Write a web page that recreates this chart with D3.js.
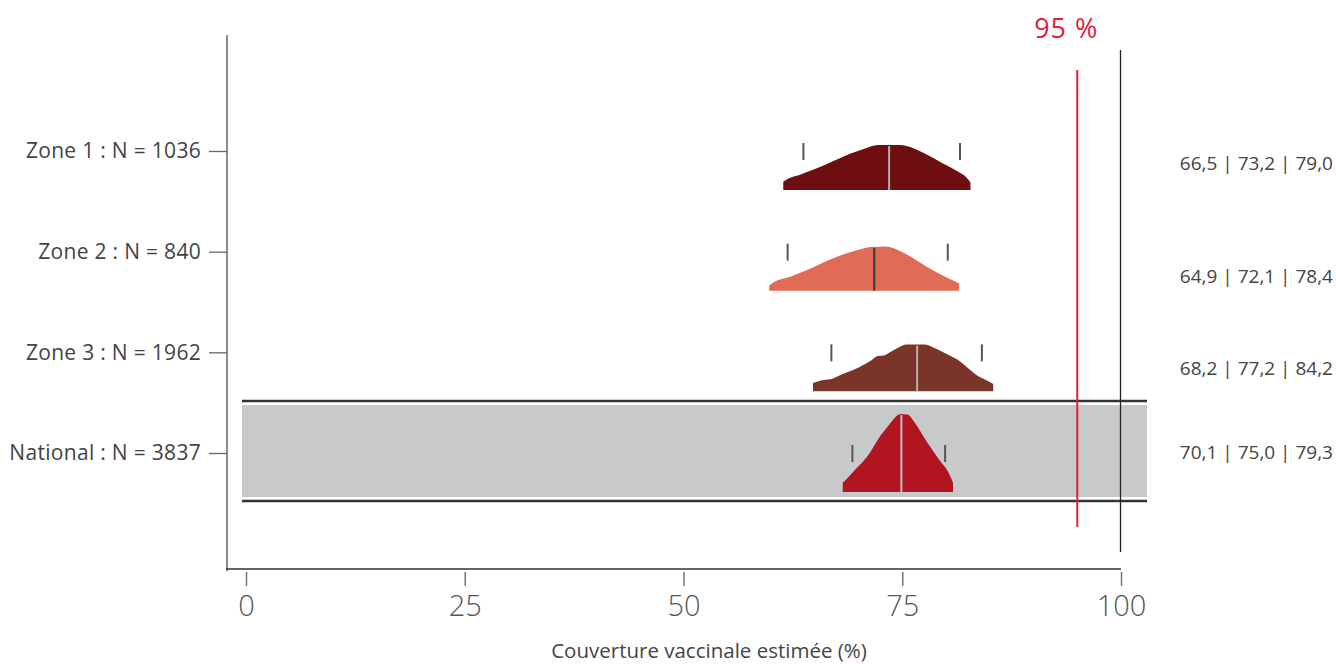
<!DOCTYPE html>
<html>
<head>
<meta charset="utf-8">
<script src="https://cdn.jsdelivr.net/npm/d3@7"></script>
<style>
  html, body { margin: 0; padding: 0; background: #fff; }
  svg { display: block; font-family: "Open Sans", "Noto Sans", sans-serif; }
</style>
</head>
<body>
<svg id="chart" width="1336" height="664"></svg>
<script>
// ---------------- DATA ----------------
const categories = ["Zone 1 : N = 1036", "Zone 2 : N = 840", "Zone 3 : N = 1962", "National : N = 3837"];
const medians = [73.5, 71.8, 76.7, 74.9];
const ciLow = [63.7, 61.9, 66.9, 69.3];
const ciHigh = [81.6, 80.2, 84.1, 79.9];
const summaryLabels = ["66,5 | 73,2 | 79,0", "64,9 | 72,1 | 78,4", "68,2 | 77,2 | 84,2", "70,1 | 75,0 | 79,3"];
const xTicks = [0, 25, 50, 75, 100];
const target = 95;
const targetLabel = "95 %";
const xTitle = "Couverture vaccinale estimée (%)";

// density profiles [coverage %, density]
const zone1Density = [[61.4,0.016],[62.0,0.022],[63.4,0.030],[64.5,0.037],[66.4,0.050],[67.6,0.059],[69.1,0.070],[70.6,0.079],[72.2,0.0865],[74.8,0.0865],[76.0,0.082],[77.1,0.074],[78.6,0.061],[80.2,0.046],[81.3,0.036],[82.5,0.021],[82.8,0.014]];
const zone2Density = [[59.8,0.010],[60.3,0.016],[62.2,0.027],[64.2,0.040],[66.1,0.055],[68.0,0.068],[69.9,0.078],[71.4,0.084],[73.1,0.085],[74.8,0.076],[76.4,0.061],[77.9,0.045],[79.4,0.031],[80.5,0.022],[81.5,0.014]];
const zone3Density = [[64.8,0.016],[65.7,0.021],[66.8,0.023],[68.0,0.032],[69.9,0.045],[71.4,0.059],[72.2,0.068],[72.9,0.069],[73.7,0.076],[74.8,0.086],[75.4,0.090],[77.5,0.090],[78.6,0.084],[80.2,0.071],[81.3,0.061],[82.5,0.045],[83.6,0.030],[84.4,0.023],[85.4,0.014]];
const nationalDensity = [[68.2,0.018],[68.7,0.026],[69.5,0.041],[70.6,0.060],[71.4,0.078],[72.5,0.108],[73.3,0.125],[74.1,0.142],[74.8,0.150],[75.6,0.149],[76.4,0.134],[77.1,0.116],[77.9,0.094],[78.6,0.077],[79.4,0.058],[80.2,0.040],[80.8,0.018]];
const densities = [zone1Density, zone2Density, zone3Density, nationalDensity];

const fillColors = ["#6e0e10", "#e06b57", "#7a3428", "#b01520"];
const medianColors = ["#b0b0b0", "#3a3a3a", "#b0b0b0", "#c0c0c0"];

// ---------------- LAYOUT ----------------
const svg = d3.select("#chart");
const x = d3.scaleLinear().domain([0, 100]).range([246, 1121]);
const y = d3.scalePoint().domain(categories).range([151, 453]);
const dens = d3.scaleLinear().domain([0, 0.15]).range([0, 78]);
const baseOffset = 39;
const summaryDy = [14, 26, 18, 1];
const axisY = 569;
const yAxisX = 227;

// highlighted national band
const natY = y(categories[3]);
svg.append("rect").attr("x", 242).attr("y", natY - 48).attr("width", 1147 - 242).attr("height", 92)
  .attr("fill", "#c8c9cb");
[natY - 52, natY + 48].forEach(yy => {
  svg.append("line").attr("x1", 242).attr("x2", 1147).attr("y1", yy).attr("y2", yy)
    .attr("stroke", "#333").attr("stroke-width", 2.5);
});

// 100% line
svg.append("line").attr("x1", x(100) - 0.5).attr("x2", x(100) - 0.5).attr("y1", 50).attr("y2", 552)
  .attr("stroke", "#222").attr("stroke-width", 1.3);

// density shapes
const area = d3.area()
  .x(d => x(d[0]))
  .curve(d3.curveMonotoneX);

categories.forEach((c, i) => {
  const base = y(c) + baseOffset;
  const data = densities[i];
  svg.append("path")
    .attr("d", area.y0(base).y1(d => base - dens(d[1]))(data))
    .attr("fill", fillColors[i]);
  let h = 0;
  for (let k = 0; k < data.length - 1; k++) {
    if (medians[i] >= data[k][0] && medians[i] <= data[k + 1][0]) {
      const t = (medians[i] - data[k][0]) / (data[k + 1][0] - data[k][0]);
      h = data[k][1] + t * (data[k + 1][1] - data[k][1]);
    }
  }
  svg.append("line").attr("x1", x(medians[i])).attr("x2", x(medians[i]))
    .attr("y1", base).attr("y2", base - dens(h) + 1)
    .attr("stroke", medianColors[i]).attr("stroke-width", 2);
  [ciLow[i], ciHigh[i]].forEach(v => {
    svg.append("line").attr("x1", x(v)).attr("x2", x(v))
      .attr("y1", y(c) - 8).attr("y2", y(c) + 9)
      .attr("stroke", "#555").attr("stroke-width", 2);
  });
  svg.append("text").attr("x", 1333).attr("y", y(c) + summaryDy[i])
    .attr("text-anchor", "end").attr("dominant-baseline", "middle")
    .attr("font-size", 19).attr("fill", "#444").text(summaryLabels[i]);
});

// target line
svg.append("line").attr("x1", x(target)).attr("x2", x(target)).attr("y1", 70).attr("y2", 527)
  .attr("stroke", "#e3203a").attr("stroke-width", 2);
svg.append("text").attr("x", x(target) - 11).attr("y", 38).attr("text-anchor", "middle")
  .attr("font-size", 27).attr("letter-spacing", 1).attr("fill", "#e3203a").text(targetLabel);

// y axis
svg.append("line").attr("x1", yAxisX).attr("x2", yAxisX).attr("y1", 35).attr("y2", 571)
  .attr("stroke", "#666").attr("stroke-width", 1.5);
const yAxis = svg.append("g").attr("transform", `translate(${yAxisX},0)`)
  .call(d3.axisLeft(y).tickSize(18).tickPadding(8));
yAxis.select(".domain").remove();
yAxis.selectAll(".tick line").attr("stroke", "#666").attr("stroke-width", 1.3);
yAxis.selectAll(".tick text").attr("font-size", 21).attr("letter-spacing", 0.3).attr("fill", "#444")
  .attr("font-family", "'Open Sans', sans-serif");

// x axis
svg.append("line").attr("x1", 226).attr("x2", x(100)).attr("y1", axisY).attr("y2", axisY)
  .attr("stroke", "#333").attr("stroke-width", 1.3);
const xAxis = svg.append("g").attr("transform", `translate(0,${axisY})`)
  .call(d3.axisBottom(x).tickValues(xTicks).tickSize(17).tickPadding(9));
xAxis.select(".domain").remove();
xAxis.selectAll(".tick line").attr("y1", 3).attr("stroke", "#777").attr("stroke-width", 1.5);
xAxis.selectAll(".tick text").attr("font-size", 29).attr("fill", "#555")
  .attr("font-family", "'Open Sans', sans-serif").attr("font-weight", 300);

svg.append("text").attr("x", 709).attr("y", 658).attr("text-anchor", "middle")
  .attr("font-size", 20.5).attr("fill", "#444").text(xTitle);
</script>
</body>
</html>
